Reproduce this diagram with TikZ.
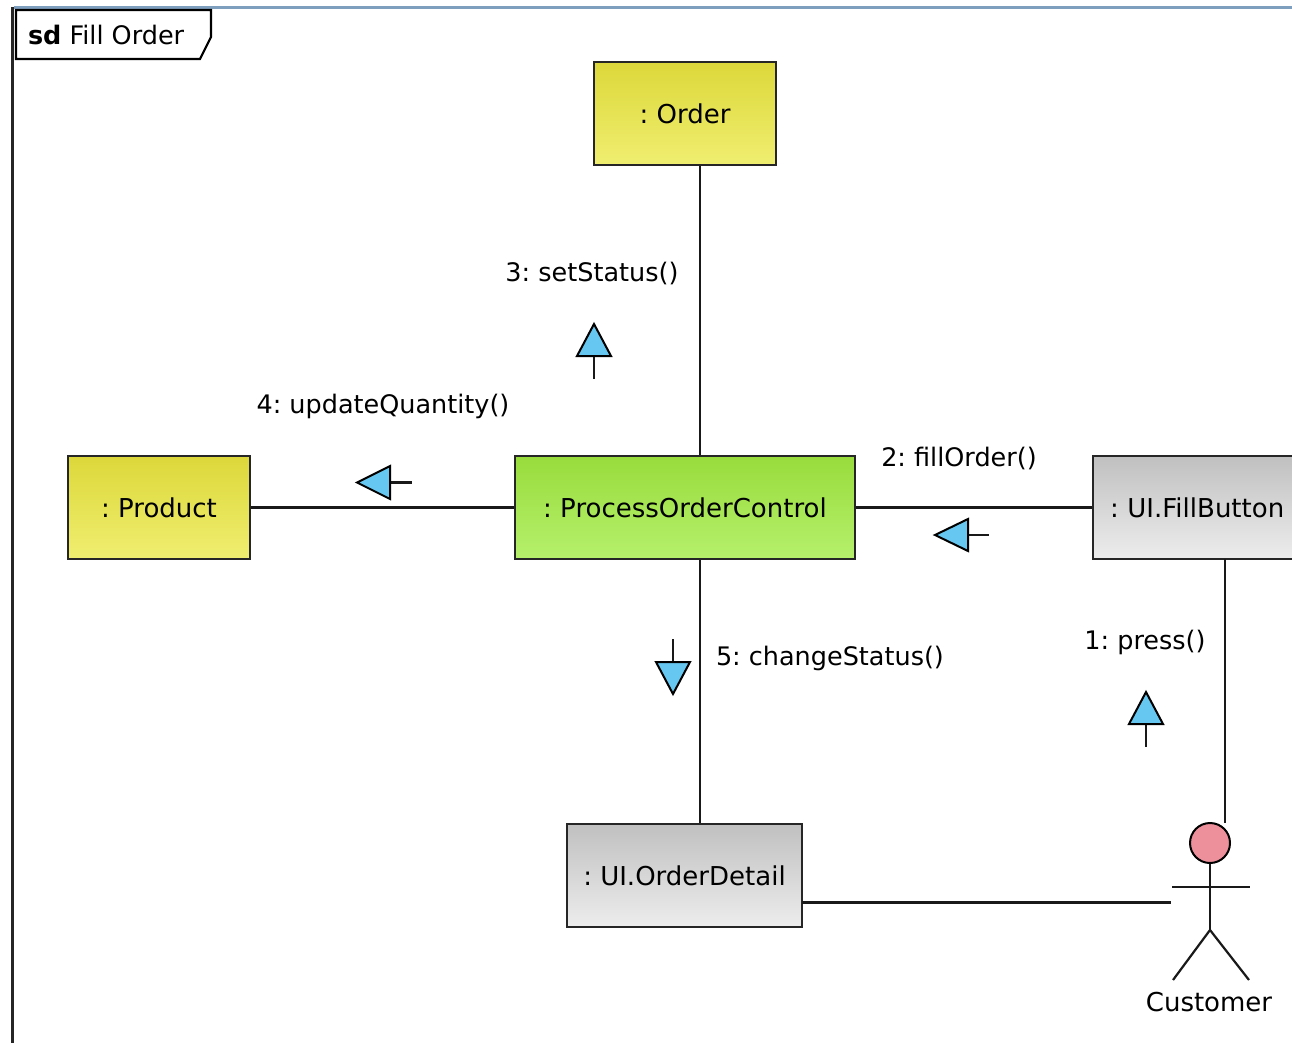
\documentclass[tikz,border=0pt]{standalone}
\usepackage{fontspec}
\setmainfont{DejaVu Sans}
\frenchspacing
\begin{document}
\begin{tikzpicture}[x=1pt,y=-1pt,
  line width=2pt,
  obj/.style={draw=black!85, line width=2.4pt, font=\fontsize{26}{30}\selectfont, inner sep=0pt},
  lbl/.style={font=\fontsize{25.5}{30}\selectfont, inner sep=0pt},
  msg/.style={draw=black, line width=2pt, line join=miter},
  conn/.style={draw=black!90, line width=2.2pt}
]
\definecolor{yelT}{HTML}{DCD83A}\definecolor{yelB}{HTML}{F0EE70}
\definecolor{grnT}{HTML}{98DC3C}\definecolor{grnB}{HTML}{B6F06C}
\definecolor{gryT}{HTML}{C0C0C0}\definecolor{gryB}{HTML}{EDEDED}
\definecolor{arr}{HTML}{66C8F0}\definecolor{pink}{HTML}{EE909C}
\definecolor{frameblue}{HTML}{7F9FBF}
\useasboundingbox (0,0) rectangle (1292,1043);
\fill[white] (0,0) rectangle (1292,1043);
% frame
\draw[line width=2.5pt, color=frameblue] (14,7.5) -- (1292,7.5);
\draw[line width=3pt, color=black!85] (12.5,7) -- (12.5,1043);
\draw[line width=2.2pt, fill=white] (16,10) -- (211,10) -- (211,37) -- (200,59) -- (16,59) -- cycle;
\node[lbl, anchor=west] (frm) at (27,35) {\textbf{sd} Fill Order};

% objects
\node[obj, top color=yelT, bottom color=yelB, minimum width=182pt, minimum height=103pt] (order) at (685,113.5) {: Order};
\node[obj, top color=yelT, bottom color=yelB, minimum width=182pt, minimum height=103pt] (product) at (159,507.5) {: Product};
\node[obj, top color=grnT, bottom color=grnB, minimum width=340pt, minimum height=103pt] (poc) at (685,507.5) {: ProcessOrderControl};
\node[obj, top color=gryT, bottom color=gryB, minimum width=240pt, minimum height=103pt, text width=206pt, align=left] (fill) at (1213,507.5) {: UI.FillButton};
\node[obj, top color=gryT, bottom color=gryB, minimum width=235pt, minimum height=103pt] (detail) at (684.5,875.5) {: UI.OrderDetail};

% actor
\node[circle, draw=black, line width=2pt, fill=pink, minimum size=40pt, inner sep=0pt] (head) at (1210,843) {};
\coordinate (arml) at (1172,887);
\coordinate (armr) at (1250,887);
\coordinate (hip) at (1210,930);
\coordinate (legl) at (1173,980);
\coordinate (legr) at (1249,980);
\draw[conn] (head.south) -- (hip);
\draw[conn] (arml) -- (armr);
\draw[conn] (legl) -- (hip) -- (legr);
\node[lbl, font=\fontsize{26}{30}\selectfont] (cust) at (1209,1002) {Customer};

% connectors
\coordinate (vx) at (700,0);
\coordinate (fillB) at (1225,559);
\coordinate (headT) at (1225,823);
\coordinate (detR) at (802,902.5);
\coordinate (actL) at (1171,902.5);
\draw[conn] (order.south -| vx) -- (poc.north -| vx);
\draw[conn] (product.east) -- (poc.west);
\draw[conn] (poc.east) -- (fill.west);
\draw[conn] (poc.south -| vx) -- (detail.north -| vx);
\draw[conn] (fillB) -- (headT);
\draw[conn] (detR) -- (actL);

% message markers
% 3 up
\draw[conn] (594,356) -- (594,379);
\draw[msg, fill=arr] (594,324) -- (611,356) -- (577,356) -- cycle;
% 4 left
\draw[conn] (390,482.5) -- (412,482.5);
\draw[msg, fill=arr] (357,482.5) -- (390,466) -- (390,499) -- cycle;
% 2 left
\draw[conn] (968,535) -- (989,535);
\draw[msg, fill=arr] (935,535) -- (968,519) -- (968,551) -- cycle;
% 5 down
\draw[conn] (673,639) -- (673,662);
\draw[msg, fill=arr] (673,694) -- (690,662) -- (656,662) -- cycle;
% 1 up
\draw[conn] (1146,724) -- (1146,747);
\draw[msg, fill=arr] (1146,692) -- (1163,724) -- (1129,724) -- cycle;

% labels
\node[lbl] (l3) at (592,274) {3: setStatus()};
\node[lbl] (l4) at (383,406) {4: updateQuantity()};
\node[lbl] (l2) at (959,458) {2: fillOrder()};
\node[lbl, anchor=west] (l5) at (715,658) {5: changeStatus()};
\node[lbl] (l1) at (1145,642) {1: press()};
\end{tikzpicture}
\end{document}
